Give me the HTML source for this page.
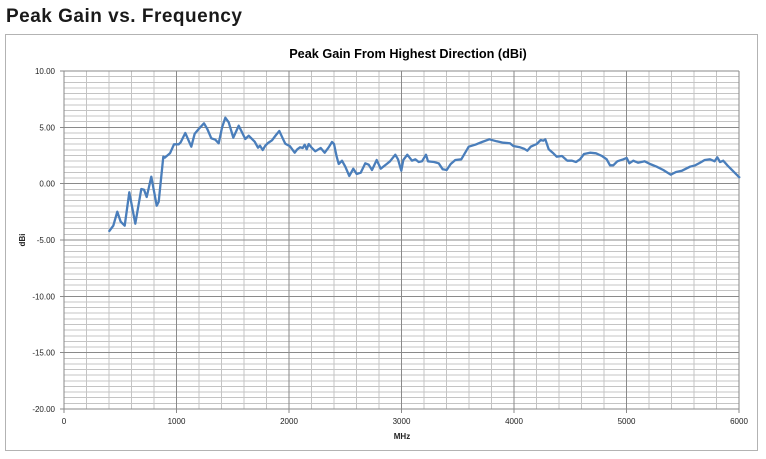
<!DOCTYPE html>
<html><head><meta charset="utf-8"><style>
html,body{margin:0;padding:0;background:#fff;}
body{width:766px;height:459px;overflow:hidden;position:relative;}
svg{position:absolute;left:0;top:0;}
</style></head><body>
<svg width="766" height="459" viewBox="0 0 766 459" xmlns="http://www.w3.org/2000/svg">
<text x="6" y="22" font-family="Liberation Sans, Arial, sans-serif" font-weight="bold" font-size="19" letter-spacing="0.5" fill="#1a1a1a">Peak Gain vs. Frequency</text>
<rect x="5.5" y="34.5" width="752" height="416" fill="#fff" stroke="#b3b3b3" stroke-width="1"/>
<text x="408" y="58" text-anchor="middle" font-family="Liberation Sans, Arial, sans-serif" font-weight="bold" font-size="12.7" fill="#000">Peak Gain From Highest Direction (dBi)</text>
<g stroke="#c4c4c4" stroke-width="1" shape-rendering="crispEdges" fill="none">
<path d="M64 76.63H739M64 82.27H739M64 87.9H739M64 93.53H739M64 99.17H739M64 104.8H739M64 110.43H739M64 116.07H739M64 121.7H739M64 132.97H739M64 138.6H739M64 144.23H739M64 149.87H739M64 155.5H739M64 161.13H739M64 166.77H739M64 172.4H739M64 178.03H739M64 189.3H739M64 194.93H739M64 200.57H739M64 206.2H739M64 211.83H739M64 217.47H739M64 223.1H739M64 228.73H739M64 234.37H739M64 245.63H739M64 251.27H739M64 256.9H739M64 262.53H739M64 268.17H739M64 273.8H739M64 279.43H739M64 285.07H739M64 290.7H739M64 301.97H739M64 307.6H739M64 313.23H739M64 318.87H739M64 324.5H739M64 330.13H739M64 335.77H739M64 341.4H739M64 347.03H739M64 358.3H739M64 363.93H739M64 369.57H739M64 375.2H739M64 380.83H739M64 386.47H739M64 392.1H739M64 397.73H739M64 403.37H739"/>
<path d="M86.5 71V409M109 71V409M131.5 71V409M154 71V409M199 71V409M221.5 71V409M244 71V409M266.5 71V409M311.5 71V409M334 71V409M356.5 71V409M379 71V409M424 71V409M446.5 71V409M469 71V409M491.5 71V409M536.5 71V409M559 71V409M581.5 71V409M604 71V409M649 71V409M671.5 71V409M694 71V409M716.5 71V409"/>
</g>
<g stroke="#8a8a8a" stroke-width="1" shape-rendering="crispEdges" fill="none">
<path d="M60 71H739M60 127.33H739M60 183.67H739M60 240H739M60 296.33H739M60 352.67H739M60 409H739"/>
<path d="M64 71V413M176.5 71V413M289 71V413M401.5 71V413M514 71V413M626.5 71V413M739 71V413"/>
</g>
<g font-family="Liberation Sans, Arial, sans-serif" font-size="8" fill="#222" text-anchor="end">
<text x="55" y="74">10.00</text>
<text x="55" y="130.3">5.00</text>
<text x="55" y="186.7">0.00</text>
<text x="55" y="243">-5.00</text>
<text x="55" y="299.3">-10.00</text>
<text x="55" y="355.7">-15.00</text>
<text x="55" y="412">-20.00</text>
</g>
<g font-family="Liberation Sans, Arial, sans-serif" font-size="8" fill="#222" text-anchor="middle">
<text x="64" y="424">0</text>
<text x="176.5" y="424">1000</text>
<text x="289" y="424">2000</text>
<text x="401.5" y="424">3000</text>
<text x="514" y="424">4000</text>
<text x="626.5" y="424">5000</text>
<text x="739" y="424">6000</text>
</g>
<text x="402" y="439" text-anchor="middle" font-family="Liberation Sans, Arial, sans-serif" font-weight="bold" font-size="8" fill="#222">MHz</text>
<text transform="translate(25,240) rotate(-90)" text-anchor="middle" font-family="Liberation Sans, Arial, sans-serif" font-weight="bold" font-size="8" fill="#222">dBi</text>
<polyline fill="none" stroke="#4a7ebb" stroke-width="2.3" stroke-linejoin="round" stroke-linecap="round" points="109.3,231 113.3,225.7 117.3,211.7 120.7,221.7 124.7,225.7 129.3,192.3 135.3,223.7 141.3,189 144,189.7 146.7,197 151.3,176.7 156.7,205.7 158.7,201.7 163.3,156.7 164.7,157.7 170,153.3 174,144.3 178.7,144.3 180.7,142.3 185.3,133 191.3,146.7 194.7,133.7 198.7,129 204,123.3 207.3,129 211.3,138.3 215.3,139.7 218.7,143.3 222,127.7 225.3,117.7 228.7,122.3 233.3,137.7 238.7,125.7 245.3,139 248.7,135.7 254.7,141.7 258,147.7 260,145.7 262.7,150 265.3,145.7 268,143 272,140.3 276,135 279.3,131 282.7,138.3 285.3,143.7 290,146.3 294.7,152.7 297.3,149.3 300,147.3 302.7,148 304.7,144.7 306.7,149.3 308.7,144 311.3,147.3 315.3,151.3 320.7,148 324.7,152.7 328.7,147.3 332,142 334,144 336.7,156.7 338.7,164 342,160.7 345.3,166.7 349.3,176 353.3,168.7 356.7,174 360.7,172.7 365.3,163.3 368.7,164.7 372,170 376.7,160 380.7,168.7 386.7,164 390,161.3 395.3,154.7 398,159.3 401.3,170.7 403.3,160 407.3,154.7 412,160.7 415.3,159.3 418.7,162 422,161.3 426,154.7 428,161.3 434,162 438.7,163.3 442.7,169.3 446.7,170 450.7,164 455.3,160 461.3,159.3 464,154.7 468.7,146.7 475.3,144.7 482,142 489.3,139.3 496.7,141.3 503.3,142.7 510,143.3 513.3,146 520,147.3 524,148.7 527.3,150.7 530.7,146.7 536.7,144 540.7,140 543.3,140.7 545.3,139.3 548.7,149.3 552.7,152.7 556.7,156.7 562,156 567.3,160.7 572,160.7 576,162 580,159.3 584,154 590,152.7 596,153.3 602,156 606.7,159.3 610,165.3 613.3,165.3 617.3,161.3 623.3,159.3 626.7,158 629.3,163.3 633.3,160.7 638,162.7 644.7,161.3 650,164 656.7,166.7 663.3,170 670.7,174.7 676,172 682,170.7 690,166.7 695.3,165.3 700,162.7 704.7,160 710,159.3 714.7,161.3 717.3,157.3 720,162 723.3,160.7 727.3,165.3 731.3,169.3 735.3,173.3 739.3,177.3"/>
</svg>
</body></html>
